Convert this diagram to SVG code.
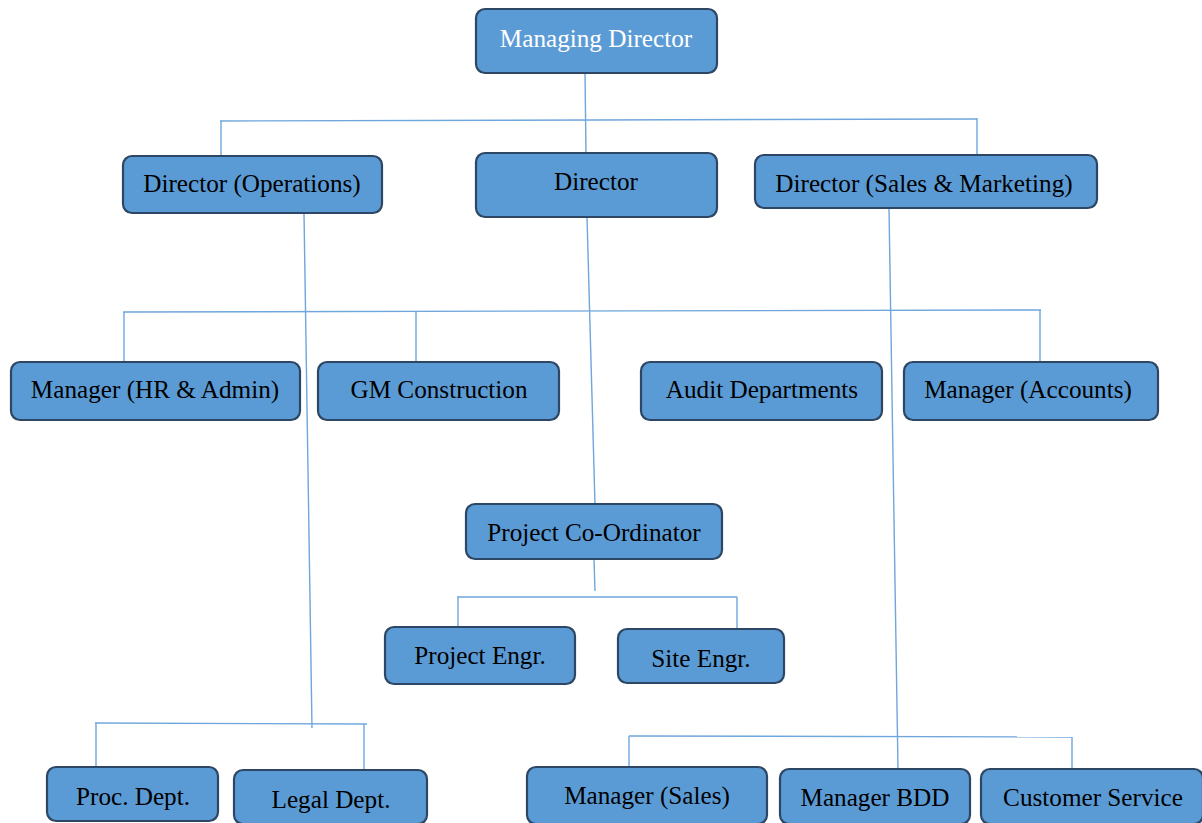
<svg xmlns="http://www.w3.org/2000/svg" width="1202" height="823" viewBox="0 0 1202 823">
<style>
.box{fill:#5B9BD5;stroke:#2C4664;stroke-width:2.2}
.t{font-family:"Liberation Serif","Times New Roman",serif;font-size:25.2px;fill:#000;text-anchor:middle;dominant-baseline:central}
.w{fill:#fff}
.c{stroke:#6FA6DC;stroke-width:1.4;fill:none}
</style>
<rect width="1202" height="823" fill="#fff"/>
<g id="connectors">
<path class="c" d="M585 73 L586 154"/>
<path class="c" d="M220 121 L977 119"/>
<path class="c" d="M221 121 L221 156"/>
<path class="c" d="M977 118 L977 156"/>
<path class="c" d="M304 213 L312 728"/>
<path class="c" d="M587 217 L595 505"/>
<path class="c" d="M889 208 L898 769"/>
<path class="c" d="M123 312 L1041 310"/>
<path class="c" d="M124 312 L124 362"/>
<path class="c" d="M416 312 L416 362"/>
<path class="c" d="M1040 310 L1040 362"/>
<path class="c" d="M594 559 L595 591"/>
<path class="c" d="M457 597 L737 597"/>
<path class="c" d="M458 597 L458 627"/>
<path class="c" d="M737 597 L737 630"/>
<path class="c" d="M95 723 L367 724"/>
<path class="c" d="M96 723 L96 767"/>
<path class="c" d="M364 724 L364 770"/>
<path class="c" d="M629 736 L1072 737"/>
<path class="c" d="M629 736 L629 767"/>
<path class="c" d="M1072 737 L1072 770"/>
</g>
<g id="n-md"><rect class="box" x="476" y="9" width="241" height="64" rx="9"/><text class="t w" x="596" y="38">Managing Director</text></g>
<g id="n-dops"><rect class="box" x="123" y="156" width="259" height="57" rx="9"/><text class="t" x="252" y="183">Director (Operations)</text></g>
<g id="n-dir"><rect class="box" x="476" y="153" width="241" height="64" rx="9"/><text class="t" x="596" y="181">Director</text></g>
<g id="n-dsm"><rect class="box" x="755" y="155" width="342" height="53" rx="9"/><text class="t" x="924" y="183">Director (Sales &amp; Marketing)</text></g>
<g id="n-hr"><rect class="box" x="11" y="362" width="289" height="58" rx="9"/><text class="t" x="155" y="389">Manager (HR &amp; Admin)</text></g>
<g id="n-gm"><rect class="box" x="318" y="362" width="241" height="58" rx="9"/><text class="t" x="439" y="389">GM Construction</text></g>
<g id="n-audit"><rect class="box" x="641" y="362" width="241" height="58" rx="9"/><text class="t" x="762" y="389">Audit Departments</text></g>
<g id="n-acc"><rect class="box" x="904" y="362" width="254" height="58" rx="9"/><text class="t" x="1028" y="389">Manager (Accounts)</text></g>
<g id="n-pco"><rect class="box" x="466" y="504" width="256" height="55" rx="9"/><text class="t" x="594" y="532">Project Co-Ordinator</text></g>
<g id="n-pe"><rect class="box" x="385" y="627" width="190" height="57" rx="9"/><text class="t" x="480" y="655">Project Engr.</text></g>
<g id="n-se"><rect class="box" x="618" y="629" width="166" height="54" rx="9"/><text class="t" x="701" y="658">Site Engr.</text></g>
<g id="n-proc"><rect class="box" x="47" y="767" width="171" height="54" rx="9"/><text class="t" x="133" y="796">Proc. Dept.</text></g>
<g id="n-legal"><rect class="box" x="234" y="770" width="193" height="54" rx="9"/><text class="t" x="331" y="799">Legal Dept.</text></g>
<g id="n-ms"><rect class="box" x="527" y="767" width="240" height="57" rx="9"/><text class="t" x="647" y="795">Manager (Sales)</text></g>
<g id="n-bdd"><rect class="box" x="780" y="769" width="190" height="55" rx="9"/><text class="t" x="875" y="797">Manager BDD</text></g>
<g id="n-cs"><rect class="box" x="981" y="769" width="222" height="55" rx="9"/><text class="t" x="1093" y="797">Customer Service</text></g>
</svg>
